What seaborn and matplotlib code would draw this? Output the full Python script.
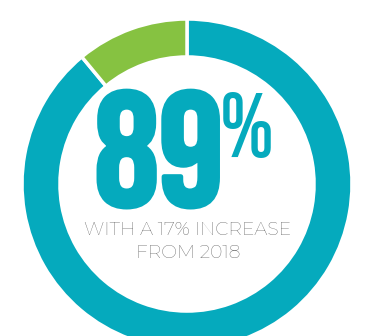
import matplotlib
matplotlib.use("Agg")
import matplotlib.pyplot as plt
import matplotlib.patheffects as pe
import seaborn as sns

categories = ["Yes", "Other"]
values = [89, 11]
colors = ["#05aabd", "#86c241"]
big_label = "89"
pct_label = "%"
sub_lines = ["WITH A 17% INCREASE", "FROM 2018"]

sns.set_theme(style="white")

fig = plt.figure(figsize=(3.69, 3.36), dpi=100)
ax = fig.add_axes([0, 0, 1, 1])
ax.pie(values, colors=colors, startangle=90, counterclock=False,
       radius=1.0, wedgeprops=dict(width=0.23, edgecolor="white", linewidth=2.5))
ax.set_xlim(-1.1333, 1.1030)
ax.set_ylim(-0.9212, 1.1152)
ax.set_aspect("auto")
ax.axis("off")

ax.text(-0.170, -0.130, big_label, ha="center", va="baseline",
        family=["Bebas Neue", "DejaVu Sans"], fontsize=116, color=colors[0],
        path_effects=[pe.withStroke(linewidth=3.5, foreground=colors[0])])
ax.text(0.20, 0.555, pct_label, ha="left", va="top",
        family=["Bebas Neue", "DejaVu Sans"], fontsize=66, color=colors[0])
ax.text(0.006, -0.279, sub_lines[0], ha="center", va="center",
        family=["Montserrat", "DejaVu Sans"], fontweight=500, fontsize=13.5, color="#505050")
ax.text(0.006, -0.418, sub_lines[1], ha="center", va="center",
        family=["Montserrat", "DejaVu Sans"], fontweight=500, fontsize=13.5, color="#505050")

fig.savefig("out.png", dpi=100, facecolor="white")
